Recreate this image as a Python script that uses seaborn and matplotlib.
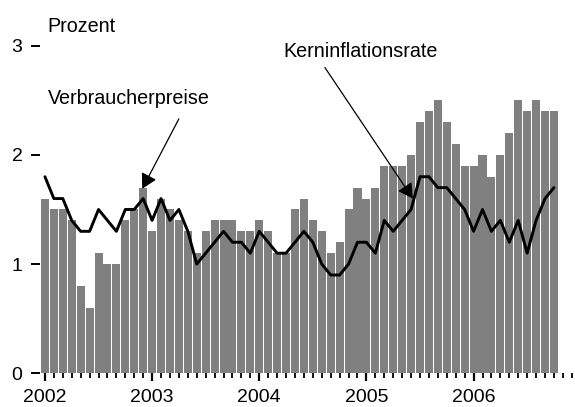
import numpy as np
import pandas as pd
import seaborn as sns
import matplotlib.pyplot as plt

# monthly rates, Jan 2002 - Oct 2006 (percent)
verbraucherpreise = [
    1.6, 1.5, 1.5, 1.4, 0.8, 0.6, 1.1, 1.0, 1.0, 1.4, 1.5, 1.7,
    1.3, 1.6, 1.5, 1.4, 1.3, 1.1, 1.3, 1.4, 1.4, 1.4, 1.3, 1.3,
    1.4, 1.3, 1.1, 1.1, 1.5, 1.6, 1.4, 1.3, 1.1, 1.2, 1.5, 1.7,
    1.6, 1.7, 1.9, 1.9, 1.9, 2.0, 2.3, 2.4, 2.5, 2.3, 2.1, 1.9,
    1.9, 2.0, 1.8, 2.0, 2.2, 2.5, 2.4, 2.5, 2.4, 2.4,
]
kerninflation = [
    1.8, 1.6, 1.6, 1.4, 1.3, 1.3, 1.5, 1.4, 1.3, 1.5, 1.5, 1.6,
    1.4, 1.6, 1.4, 1.5, 1.3, 1.0, 1.1, 1.2, 1.3, 1.2, 1.2, 1.1,
    1.3, 1.2, 1.1, 1.1, 1.2, 1.3, 1.2, 1.0, 0.9, 0.9, 1.0, 1.2,
    1.2, 1.1, 1.4, 1.3, 1.4, 1.5, 1.8, 1.8, 1.7, 1.7, 1.6, 1.5,
    1.3, 1.5, 1.3, 1.4, 1.2, 1.4, 1.1, 1.4, 1.6, 1.7,
]
years = ["2002", "2003", "2004", "2005", "2006"]
y_ticks = [0, 1, 2, 3]

start = pd.Timestamp("2002-01-01")
months = pd.date_range(start, periods=len(verbraucherpreise), freq="MS")
df = pd.DataFrame({
    "month": months,
    "vpi": verbraucherpreise,
    "kern": kerninflation,
})
# month index on the axis
df["pos"] = (df.month.dt.year - start.year) * 12 + df.month.dt.month - 1
n_months = len(years) * 12

sns.set_style("white")
plt.rcParams["font.family"] = ["Liberation Sans", "DejaVu Sans"]
plt.rcParams["font.size"] = 14.2
for key in ["text.color", "axes.labelcolor", "xtick.color", "ytick.color"]:
    plt.rcParams[key] = "black"

fig = plt.figure(figsize=(5.75, 4.07), dpi=100)
ax = fig.add_axes([0.0704, 0.0828, 0.9318, 0.805])

sns.barplot(data=df, x="pos", y="vpi", native_scale=True, color="#808080",
            saturation=1, width=0.9, errorbar=None, linewidth=0, ax=ax)
sns.lineplot(data=df, x="pos", y="kern", color="black", linewidth=2.1, ax=ax)

ax.set_xlim(-0.5, n_months - 0.5)
ax.set_ylim(0, 3)
ax.set_xlabel("")
ax.set_ylabel("")
for s in ax.spines.values():
    s.set_visible(False)

ax.set_xticks(range(0, n_months, 12))
ax.set_xticklabels(years)
ax.set_xticks(range(n_months), minor=True)
ax.tick_params(axis="x", which="major", direction="out", length=6, width=1.6,
               pad=5, labelsize=14, bottom=True)
ax.tick_params(axis="x", which="minor", direction="out", length=3.5, width=1.3,
               bottom=True)
ax.set_yticks(y_ticks)
ax.set_yticklabels([str(v) for v in y_ticks])
ax.tick_params(axis="y", direction="out", length=6.5, width=1.4, pad=6.5,
               labelsize=14, left=True)

ax.text(0.3, 3.18, "Prozent", ha="left", va="center", clip_on=False)

ax.annotate("", xy=(10.9, 1.69), xytext=(15.0, 2.33),
            arrowprops=dict(arrowstyle="-|>,head_length=0.45,head_width=0.25",
                            color="black", lw=0.9, mutation_scale=20,
                            shrinkA=0, shrinkB=0))
ax.text(0.3, 2.52, "Verbraucherpreise", ha="left", va="center")

ax.annotate("", xy=(41.2, 1.60), xytext=(31.35, 2.80),
            arrowprops=dict(arrowstyle="-|>,head_length=0.45,head_width=0.25",
                            color="black", lw=0.9, mutation_scale=20,
                            shrinkA=0, shrinkB=0))
ax.text(26.65, 2.95, "Kerninflationsrate", ha="left", va="center")

fig.savefig("out.png", dpi=100)
